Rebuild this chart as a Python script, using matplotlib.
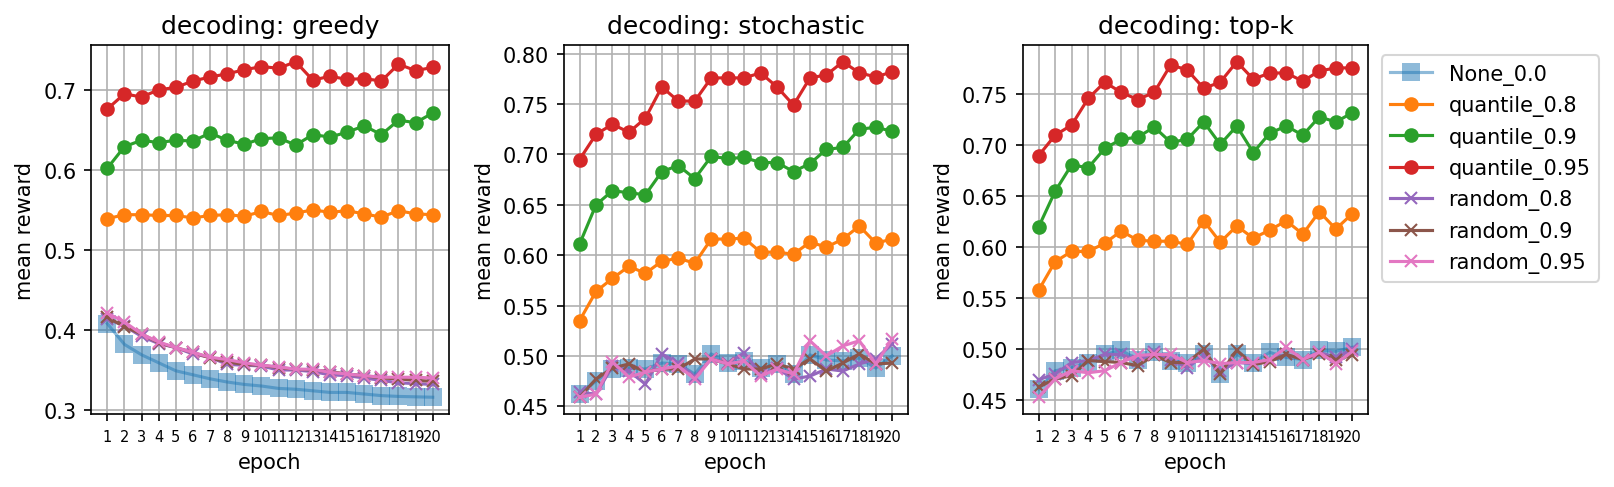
import matplotlib
matplotlib.use("Agg")
import matplotlib.pyplot as plt
import numpy as np

epochs = list(range(1, 21))
decodings = ["greedy", "stochastic", "top-k"]
labels = ["None_0.0", "quantile_0.8", "quantile_0.9", "quantile_0.95",
          "random_0.8", "random_0.9", "random_0.95"]

# greedy
greedy_none = [0.408, 0.382, 0.369, 0.359, 0.349, 0.344, 0.339, 0.335, 0.332, 0.330,
               0.327, 0.326, 0.324, 0.322, 0.322, 0.320, 0.318, 0.317, 0.3165, 0.316]
greedy_q08 = [0.539, 0.544, 0.544, 0.543, 0.543, 0.540, 0.543, 0.544, 0.542, 0.548,
              0.543, 0.546, 0.550, 0.547, 0.549, 0.545, 0.541, 0.549, 0.545, 0.544]
greedy_q09 = [0.602, 0.629, 0.637, 0.634, 0.637, 0.636, 0.646, 0.637, 0.632, 0.639,
              0.640, 0.631, 0.644, 0.641, 0.647, 0.655, 0.644, 0.662, 0.659, 0.671]
greedy_q095 = [0.676, 0.695, 0.691, 0.700, 0.703, 0.711, 0.716, 0.720, 0.725, 0.729,
               0.727, 0.735, 0.712, 0.717, 0.713, 0.714, 0.711, 0.732, 0.724, 0.728]
greedy_r08 = [0.414, 0.405, 0.392, 0.383, 0.378, 0.370, 0.366, 0.357, 0.356, 0.355,
              0.350, 0.350, 0.348, 0.344, 0.343, 0.340, 0.337, 0.334, 0.333, 0.332]
greedy_r09 = [0.416, 0.404, 0.395, 0.384, 0.378, 0.372, 0.365, 0.360, 0.357, 0.356,
              0.353, 0.351, 0.350, 0.348, 0.345, 0.343, 0.340, 0.339, 0.337, 0.336]
greedy_r095 = [0.421, 0.410, 0.395, 0.385, 0.378, 0.372, 0.366, 0.363, 0.359, 0.356,
               0.354, 0.351, 0.351, 0.347, 0.345, 0.343, 0.341, 0.341, 0.341, 0.340]

# stochastic
stoch_none = [0.462, 0.475, 0.487, 0.488, 0.487, 0.493, 0.492, 0.482, 0.502, 0.493,
              0.495, 0.488, 0.492, 0.482, 0.501, 0.496, 0.495, 0.498, 0.488, 0.500]
stoch_q08 = [0.535, 0.564, 0.577, 0.589, 0.582, 0.594, 0.597, 0.592, 0.616, 0.616,
             0.617, 0.603, 0.603, 0.601, 0.613, 0.608, 0.616, 0.629, 0.612, 0.616]
stoch_q09 = [0.611, 0.650, 0.664, 0.662, 0.660, 0.683, 0.689, 0.676, 0.698, 0.696,
             0.697, 0.692, 0.692, 0.683, 0.691, 0.705, 0.707, 0.725, 0.727, 0.723]
stoch_q095 = [0.695, 0.720, 0.730, 0.722, 0.736, 0.767, 0.753, 0.753, 0.776, 0.776,
              0.776, 0.781, 0.767, 0.749, 0.776, 0.779, 0.792, 0.781, 0.777, 0.782]
stoch_r08 = [0.464, 0.462, 0.490, 0.485, 0.472, 0.502, 0.493, 0.479, 0.497, 0.493,
             0.503, 0.482, 0.488, 0.477, 0.480, 0.487, 0.485, 0.492, 0.497, 0.512]
stoch_r09 = [0.459, 0.477, 0.488, 0.492, 0.484, 0.487, 0.487, 0.497, 0.497, 0.492,
             0.487, 0.487, 0.492, 0.487, 0.497, 0.485, 0.493, 0.502, 0.492, 0.493]
stoch_r095 = [0.459, 0.462, 0.494, 0.479, 0.484, 0.487, 0.490, 0.477, 0.497, 0.492,
              0.495, 0.480, 0.487, 0.482, 0.515, 0.500, 0.510, 0.515, 0.492, 0.517]

# top-k
topk_none = [0.461, 0.479, 0.482, 0.487, 0.495, 0.499, 0.490, 0.497, 0.489, 0.487,
             0.495, 0.476, 0.495, 0.487, 0.497, 0.492, 0.490, 0.499, 0.498, 0.502]
topk_q08 = [0.558, 0.586, 0.596, 0.596, 0.604, 0.616, 0.607, 0.606, 0.606, 0.603,
            0.626, 0.605, 0.621, 0.609, 0.617, 0.626, 0.613, 0.635, 0.618, 0.633]
topk_q09 = [0.620, 0.655, 0.681, 0.678, 0.697, 0.706, 0.708, 0.718, 0.703, 0.706,
            0.723, 0.701, 0.719, 0.693, 0.712, 0.719, 0.710, 0.728, 0.723, 0.732]
topk_q095 = [0.690, 0.710, 0.720, 0.746, 0.762, 0.752, 0.745, 0.752, 0.779, 0.774,
             0.756, 0.762, 0.782, 0.765, 0.771, 0.771, 0.763, 0.773, 0.776, 0.776]
topk_r08 = [0.470, 0.476, 0.487, 0.489, 0.495, 0.495, 0.489, 0.497, 0.490, 0.482,
            0.494, 0.479, 0.487, 0.486, 0.490, 0.495, 0.490, 0.497, 0.492, 0.500]
topk_r09 = [0.463, 0.471, 0.474, 0.489, 0.488, 0.487, 0.484, 0.494, 0.487, 0.487,
            0.500, 0.476, 0.499, 0.485, 0.488, 0.495, 0.490, 0.495, 0.490, 0.494]
topk_r095 = [0.453, 0.471, 0.479, 0.477, 0.479, 0.487, 0.494, 0.495, 0.495, 0.487,
             0.489, 0.486, 0.487, 0.487, 0.490, 0.502, 0.490, 0.497, 0.486, 0.498]

data = {
    "greedy": [greedy_none, greedy_q08, greedy_q09, greedy_q095, greedy_r08, greedy_r09, greedy_r095],
    "stochastic": [stoch_none, stoch_q08, stoch_q09, stoch_q095, stoch_r08, stoch_r09, stoch_r095],
    "top-k": [topk_none, topk_q08, topk_q09, topk_q095, topk_r08, topk_r09, topk_r095],
}


def draw_panel(ax, name):
    series = data[name]
    for i, (lab, vals) in enumerate(zip(labels, series)):
        color = "C%d" % i
        if lab.startswith("None"):
            ax.plot(epochs, vals, marker="s", markersize=9, markeredgewidth=0,
                    alpha=0.5, color=color, label=lab)
        elif lab.startswith("quantile"):
            ax.plot(epochs, vals, marker="o", color=color, label=lab)
        else:
            ax.plot(epochs, vals, marker="x", color=color, label=lab)
    ax.set_xticks(epochs)
    ax.set_xticklabels([str(e) for e in epochs], fontsize=7)
    ax.grid(True)
    ax.set_title("decoding: " + name, fontsize=12)
    ax.set_xlabel("epoch")
    ax.set_ylabel("mean reward")


def main():
    fig = plt.figure(figsize=(10.76, 3.2533), dpi=150)
    boxes = [[0.0564, 0.1496, 0.2218, 0.7561],
             [0.3494, 0.1496, 0.2131, 0.7561],
             [0.6338, 0.1496, 0.2138, 0.7561]]
    axes = []
    for box, name in zip(boxes, decodings):
        ax = fig.add_axes(box)
        draw_panel(ax, name)
        axes.append(ax)
    axes[-1].legend(loc="upper left", bbox_to_anchor=(1.01, 1))
    fig.savefig("out.png", dpi=150)


if __name__ == '__main__':
    main()
